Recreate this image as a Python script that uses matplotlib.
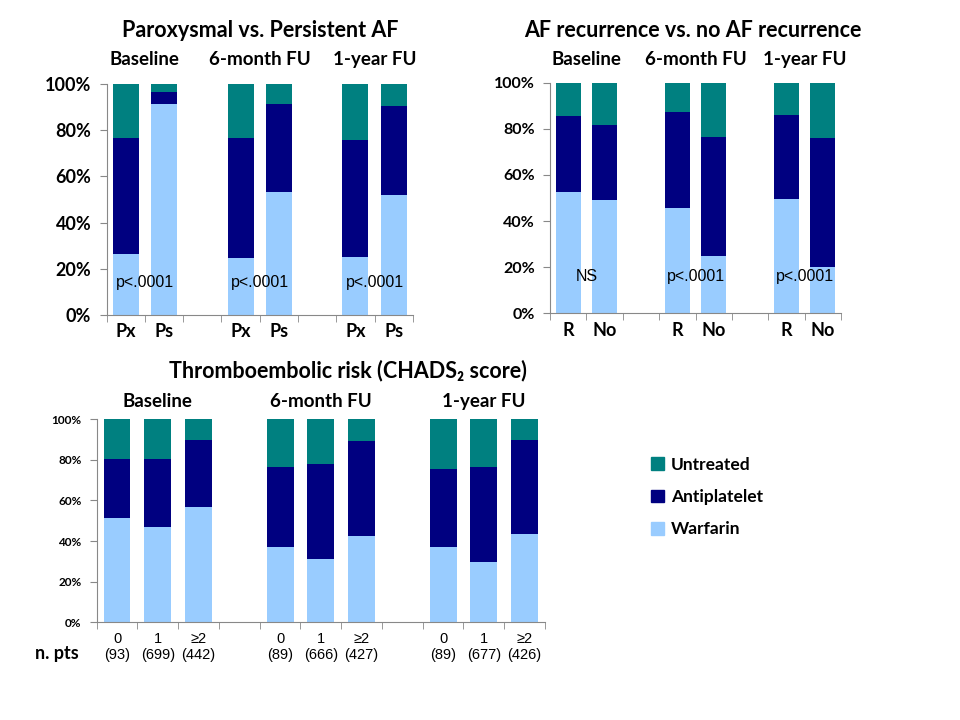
import numpy as np
import matplotlib
matplotlib.use("Agg")
import matplotlib.pyplot as plt
from matplotlib.patches import Patch

# colours
C_UNT = "#008080"
C_ANT = "#000080"
C_WAR = "#99CCFF"

# ---- panel 1 : paroxysmal vs persistent ----
p1_groups = ["Baseline", "6-month FU", "1-year FU"]
p1_bars = ["Px", "Ps"]
p1_warfarin = [26.4, 91.3, 24.7, 53.2, 25.1, 51.9]
p1_antiplat_top = [76.6, 96.5, 76.6, 91.3, 75.8, 90.5]
p1_pvals = ["p<.0001", "p<.0001", "p<.0001"]

# ---- panel 2 : AF recurrence vs none ----
p2_groups = ["Baseline", "6-month FU", "1-year FU"]
p2_bars = ["R", "No"]
p2_warfarin = [52.6, 49.1, 45.7, 24.9, 49.6, 20.1]
p2_antiplat_top = [85.5, 81.6, 87.3, 76.4, 86.0, 76.0]
p2_pvals = ["NS", "p<.0001", "p<.0001"]

# ---- panel 3 : CHADS2 score ----
p3_groups = ["Baseline", "6-month FU", "1-year FU"]
p3_bars = ["0", "1", "\u22652"]
p3_npts = [93, 699, 442, 89, 666, 427, 89, 677, 426]
p3_warfarin = [51.3, 46.9, 56.7, 37.0, 31.1, 42.4, 37.0, 29.6, 43.4]
p3_antiplat_top = [80.4, 80.4, 89.8, 76.5, 78.0, 89.3, 75.5, 76.5, 89.8]

CAL = ["Lato", "DejaVu Sans"]
ARIAL = ["Liberation Sans", "DejaVu Sans"]


def positions(n_groups, n_bars):
    xs = []
    for g in range(n_groups):
        for i in range(n_bars):
            xs.append(g * (n_bars + 1) + i)
    return np.array(xs)


def draw_panel(ax, groups, bars, warf, ap_top, width, tick_fs, sub_y, sub_fs):
    nb = len(bars)
    xs = positions(len(groups), nb)
    warf = np.array(warf)
    ap = np.array(ap_top) - warf
    unt = 100 - np.array(ap_top)
    ax.bar(xs, warf, width, color=C_WAR, zorder=2)
    ax.bar(xs, ap, width, bottom=warf, color=C_ANT, zorder=2)
    ax.bar(xs, unt, width, bottom=np.array(ap_top), color=C_UNT, zorder=2)
    nslots = len(groups) * (nb + 1) - 1
    ax.set_xlim(-0.5, nslots - 0.5)
    ax.set_ylim(0, 100)
    ax.set_yticks(range(0, 101, 20))
    ax.set_yticklabels([f"{v}%" for v in range(0, 101, 20)],
                       fontsize=tick_fs, fontweight="bold", family=CAL)
    ax.set_xticks(xs)
    ax.set_xticks(np.arange(-0.5, nslots, 1.0), minor=True)
    ax.tick_params(axis="x", which="major", length=0)
    ax.tick_params(axis="x", which="minor", length=5, color="#888888")
    ax.tick_params(axis="y", length=5, color="#888888", pad=6)
    for s in ["top", "right"]:
        ax.spines[s].set_visible(False)
    for s in ["left", "bottom"]:
        ax.spines[s].set_color("#888888")
    trans = ax.get_xaxis_transform()
    for g, name in enumerate(groups):
        cx = g * (nb + 1) + (nb - 1) / 2
        ax.text(cx, sub_y, name, transform=trans, ha="center", va="center",
                fontsize=sub_fs, fontweight="bold", family=CAL)
    return xs


fig = plt.figure(figsize=(9.6, 7.2), dpi=100)

# panel 1
ax1 = fig.add_axes([0.111, 0.5625, 0.319, 0.321])
xs1 = draw_panel(ax1, p1_groups, p1_bars, p1_warfarin, p1_antiplat_top,
                 0.68, 13, 1.105, 13.5)
ax1.set_xticklabels(p1_bars * 3, fontsize=13, fontweight="bold", family=CAL)
ax1.tick_params(axis="x", which="major", pad=6)
for g, t in enumerate(p1_pvals):
    ax1.text(g * 3 + 0.5, 14, t, ha="center", va="center", fontsize=11.5,
             family=ARIAL, zorder=3)
fig.text(0.271, 0.958, "Paroxysmal vs. Persistent AF", ha="center",
         va="center", fontsize=15.5, fontweight="bold", family=CAL)

# panel 2
ax2 = fig.add_axes([0.573, 0.565, 0.303, 0.320])
xs2 = draw_panel(ax2, p2_groups, p2_bars, p2_warfarin, p2_antiplat_top,
                 0.69, 11.5, 1.10, 13.5)
ax2.set_xticklabels(p2_bars * 3, fontsize=13, fontweight="bold", family=CAL)
ax2.tick_params(axis="x", which="major", pad=6)
for g, t in enumerate(p2_pvals):
    ax2.text(g * 3 + 0.5, 16, t, ha="center", va="center", fontsize=11.5,
             family=ARIAL, zorder=3)
fig.text(0.722, 0.958, "AF recurrence vs. no AF recurrence", ha="center",
         va="center", fontsize=15.5, fontweight="bold", family=CAL)

# panel 3
ax3 = fig.add_axes([0.1007, 0.136, 0.467, 0.2815])
xs3 = draw_panel(ax3, p3_groups, p3_bars, p3_warfarin, p3_antiplat_top,
                 0.66, 8.5, 1.09, 13.5)
ax3.set_xticklabels([f"{b}\n({n})" for b, n in zip(p3_bars * 3, p3_npts)],
                    fontsize=10.5, family=ARIAL)
ax3.tick_params(axis="x", which="major", pad=7)
fig.text(0.3625, 0.486, "Thromboembolic risk (CHADS\u2082 score)", ha="center",
         va="center", fontsize=15.5, fontweight="bold", family=CAL)
fig.text(0.059, 0.092, "n. pts", ha="center", va="center", fontsize=13,
         fontweight="bold", family=CAL)

# legend
handles = [Patch(color=C_UNT), Patch(color=C_ANT), Patch(color=C_WAR)]
fig.legend(handles, ["Untreated", "Antiplatelet", "Warfarin"],
           loc="center left", bbox_to_anchor=(0.662, 1 - 497 / 720),
           frameon=False, handlelength=0.75, handleheight=0.75,
           handletextpad=0.4, labelspacing=0.95,
           prop={"family": CAL, "weight": "bold", "size": 12.5})

fig.savefig("out.png", dpi=100)
